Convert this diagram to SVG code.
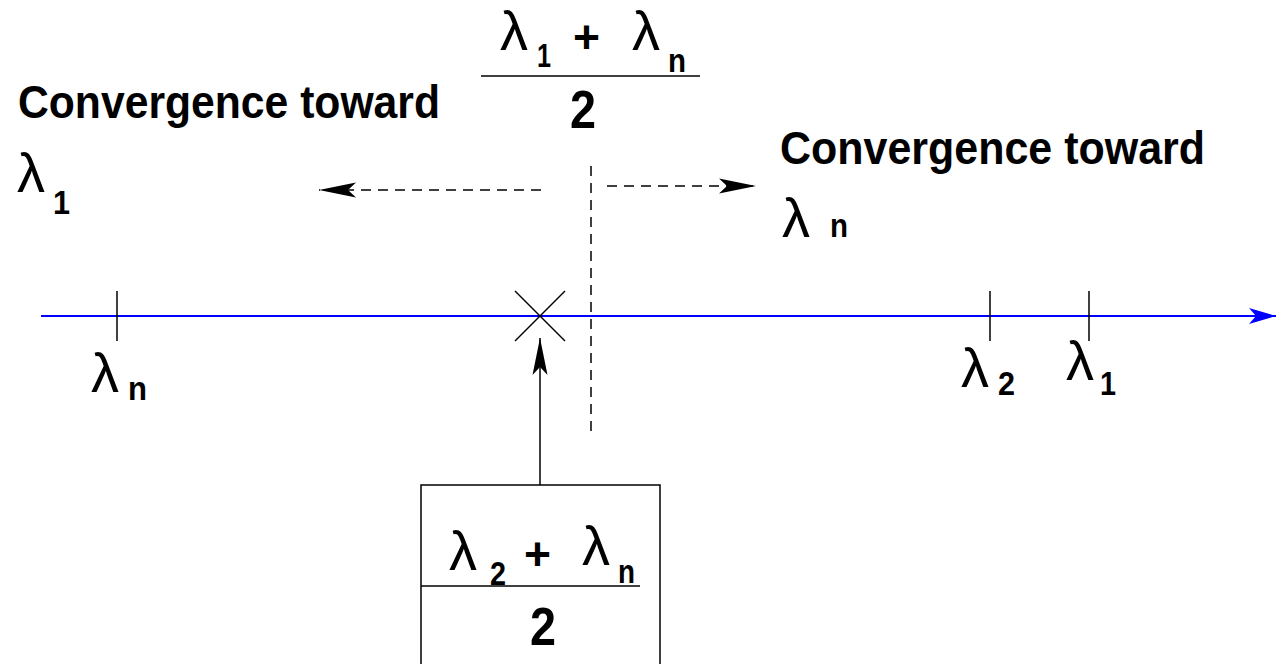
<svg xmlns="http://www.w3.org/2000/svg" width="1277" height="664" viewBox="0 0 1277 664">
<style>
.lam{font-family:"Liberation Sans",Arial,sans-serif;font-size:56px;fill:#000}
.sub{font-family:"Liberation Sans",Arial,sans-serif;font-weight:bold;font-size:34px;fill:#000}
.big{font-family:"Liberation Sans",Arial,sans-serif;font-weight:bold;font-size:53px;fill:#000}
.pl{font-family:"Liberation Sans",Arial,sans-serif;font-weight:bold;font-size:46px;fill:#000}
.lbl{font-family:"Liberation Sans",Arial,sans-serif;font-weight:bold;font-size:47px;fill:#000}
.ln{stroke:#000;stroke-width:1.5;fill:none}
.dash{stroke:#000;stroke-width:1.5;fill:none;stroke-dasharray:10 7}
</style>
<defs>
<marker id="ab" markerUnits="userSpaceOnUse" markerWidth="42" markerHeight="20" viewBox="-40 -10 42 20" refX="0" refY="0" orient="auto">
<path d="M0,0 L-37,-7.5 L-29,0 L-37,7.5 Z" fill="#000"/>
</marker>
<marker id="ablue" markerUnits="userSpaceOnUse" markerWidth="32" markerHeight="20" viewBox="-30 -10 32 20" refX="0" refY="0" orient="auto">
<path d="M0,0 L-27,-8 L-20,0 L-27,8 Z" fill="#0000ff"/>
</marker>
</defs>

<g id="axis">
<line x1="41" y1="316" x2="1276" y2="316" stroke="#0000ff" stroke-width="2" marker-end="url(#ablue)"/>
<line class="ln" x1="117" y1="291" x2="117" y2="341"/>
<line class="ln" x1="990" y1="291" x2="990" y2="341"/>
<line class="ln" x1="1089" y1="291" x2="1089" y2="341"/>
</g>

<g id="cross">
<line class="ln" x1="515" y1="291" x2="565" y2="341"/>
<line class="ln" x1="565" y1="291" x2="515" y2="341"/>
</g>

<g id="connectors">
<line class="dash" x1="591" y1="166" x2="591" y2="436"/>
<line class="dash" x1="541" y1="190" x2="319" y2="190" marker-end="url(#ab)"/>
<line class="dash" x1="607" y1="186" x2="756" y2="186" marker-end="url(#ab)"/>
<line class="ln" x1="540" y1="485" x2="540" y2="338" marker-end="url(#ab)"/>
</g>

<g id="label-left">
<text class="lbl" x="18" y="118" textLength="422" lengthAdjust="spacingAndGlyphs">Convergence toward</text>
<text class="lam" x="17" y="192">λ</text>
<text class="sub" x="53" y="214" font-size="37" textLength="17" lengthAdjust="spacingAndGlyphs">1</text>
</g>

<g id="label-right">
<text class="lbl" x="780" y="164" textLength="425" lengthAdjust="spacingAndGlyphs">Convergence toward</text>
<text class="lam" x="782" y="237">λ</text>
<text class="sub" x="830" y="237" font-size="33" textLength="18" lengthAdjust="spacingAndGlyphs">n</text>
</g>

<g id="top-fraction">
<text class="lam" x="500" y="50" font-size="54">λ</text>
<text class="sub" x="537" y="67" font-size="28" textLength="14" lengthAdjust="spacingAndGlyphs">1</text>
<text class="pl" x="573" y="53" textLength="27" lengthAdjust="spacingAndGlyphs">+</text>
<text class="lam" x="632" y="50" font-size="54">λ</text>
<text class="sub" x="668" y="72" textLength="18" lengthAdjust="spacingAndGlyphs">n</text>
<line class="ln" x1="481" y1="76" x2="700" y2="76"/>
<text class="big" x="570" y="128" textLength="26" lengthAdjust="spacingAndGlyphs">2</text>
</g>

<g id="tick-labels">
<text class="lam" x="91" y="392">λ</text>
<text class="sub" x="128" y="400" textLength="19" lengthAdjust="spacingAndGlyphs">n</text>
<text class="lam" x="961" y="387">λ</text>
<text class="sub" x="998" y="395" font-size="31" textLength="17" lengthAdjust="spacingAndGlyphs">2</text>
<text class="lam" x="1066" y="380">λ</text>
<text class="sub" x="1100" y="395" font-size="29" textLength="16" lengthAdjust="spacingAndGlyphs">1</text>
</g>

<g id="box">
<rect class="ln" x="421" y="485" width="239" height="190"/>
<text class="lam" x="449" y="570">λ</text>
<text class="sub" x="490" y="585" font-size="28" textLength="16" lengthAdjust="spacingAndGlyphs">2</text>
<text class="pl" x="524" y="570" textLength="27" lengthAdjust="spacingAndGlyphs">+</text>
<text class="lam" x="582" y="565">λ</text>
<text class="sub" x="618" y="583" font-size="32" textLength="17" lengthAdjust="spacingAndGlyphs">n</text>
<line class="ln" x1="421" y1="586" x2="640" y2="586"/>
<text class="big" x="530" y="645" textLength="26" lengthAdjust="spacingAndGlyphs">2</text>
</g>
</svg>
